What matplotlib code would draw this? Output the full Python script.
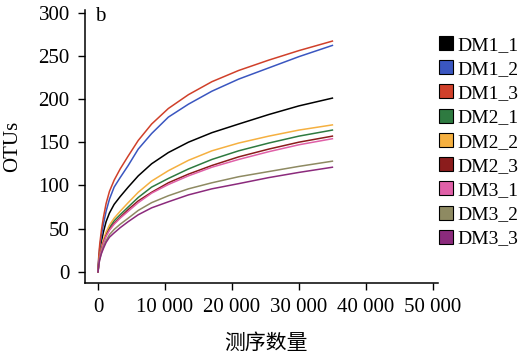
import matplotlib
matplotlib.use("Agg")
from matplotlib import pyplot as plt
from matplotlib.lines import Line2D
from matplotlib.ticker import FuncFormatter

# sequencing depth (reads) and rarefied OTU counts
depth = [0, 100, 250, 500, 800, 1200, 1700, 2400, 3300, 4500, 6000,
         8000, 10500, 13500, 17000, 21000, 25500, 30000, 35000]

DM1_1 = [0, 13, 23, 35, 46, 58, 68, 78, 87, 98, 111, 125, 138, 150, 161, 171, 182, 192, 201]
DM1_2 = [0, 16, 28, 42, 55, 70, 84, 98, 109, 123, 142, 160, 179, 194, 209, 223, 236, 249, 262]
DM1_3 = [0, 18, 32, 48, 63, 79, 93, 106, 119, 134, 152, 171, 189, 205, 220, 233, 245, 256, 267]
DM2_1 = [0, 10, 18, 27, 35, 44, 51, 59, 66, 75, 86, 98, 108, 119, 130, 140, 149, 157, 164]
DM2_2 = [0, 11, 19, 28, 37, 46, 54, 62, 70, 80, 92, 105, 117, 129, 140, 149, 157, 164, 170]
DM2_3 = [0, 10, 17, 26, 34, 42, 49, 56, 63, 72, 82, 92, 103, 113, 123, 133, 142, 150, 157]
DM3_1 = [0, 10, 17, 25, 33, 41, 48, 55, 62, 70, 80, 91, 101, 111, 121, 130, 139, 147, 154]
DM3_2 = [0, 8, 15, 22, 29, 36, 43, 49, 55, 62, 71, 80, 88, 96, 103, 110, 116, 122, 128]
DM3_3 = [0, 8, 14, 21, 27, 34, 40, 45, 51, 58, 66, 74, 81, 89, 96, 102, 109, 115, 121]

labels = ['DM1_1', 'DM1_2', 'DM1_3', 'DM2_1', 'DM2_2', 'DM2_3', 'DM3_1', 'DM3_2', 'DM3_3']
series = [DM1_1, DM1_2, DM1_3, DM2_1, DM2_2, DM2_3, DM3_1, DM3_2, DM3_3]
colors = ['#000000', '#3a56c0', '#d0402a', '#2e7a40', '#f5b040',
          '#8b1c1c', '#e060a8', '#8e8a62', '#8b2a7c']

plt.rcParams['font.family'] = ['Liberation Serif', 'Noto Sans CJK SC']
FS = 15

fig = plt.figure(figsize=(5.29, 3.53), dpi=100)
ax = fig.add_axes([0.1607, 0.1983, 0.667, 0.7734])

for vals, c in zip(series, colors):
    ax.plot(depth, vals, color=c, lw=1.1)

ax.set_xlim(-1950, 50750)
ax.set_ylim(-13, 303)
ax.set_xticks(range(0, 50001, 10000))
ax.set_yticks(range(0, 301, 50))
ax.xaxis.set_major_formatter(FuncFormatter(lambda v, p: f'{int(v):,}'.replace(',', ' ')))
ax.tick_params(labelsize=FS, length=5, width=1, direction='out', pad=6)
for s in ['top', 'right']:
    ax.spines[s].set_visible(False)
ax.spines['left'].set_linewidth(1.1)
ax.spines['bottom'].set_linewidth(1.1)

ax.set_ylabel('OTUs', fontsize=FS)
ax.yaxis.set_label_coords(-0.178, 0.5)
ax.set_xlabel('测序数量', fontsize=FS, family=['Noto Sans CJK SC'])
ax.xaxis.set_label_coords(0.514, -0.18)
ax.text(0.028, 1.012, 'b', transform=ax.transAxes, fontsize=FS, va='top', ha='left')

handles = [Line2D([], [], ls='none', marker='s', markersize=10, markerfacecolor=c,
                  markeredgecolor='black', markeredgewidth=0.8) for c in colors]
fig.legend(handles, labels, loc='upper left', bbox_to_anchor=(0.81, 0.925),
           frameon=False, fontsize=14, handlelength=0.8, handletextpad=0.2,
           labelspacing=0.34, borderpad=0)

fig.savefig('out.png', dpi=100)
